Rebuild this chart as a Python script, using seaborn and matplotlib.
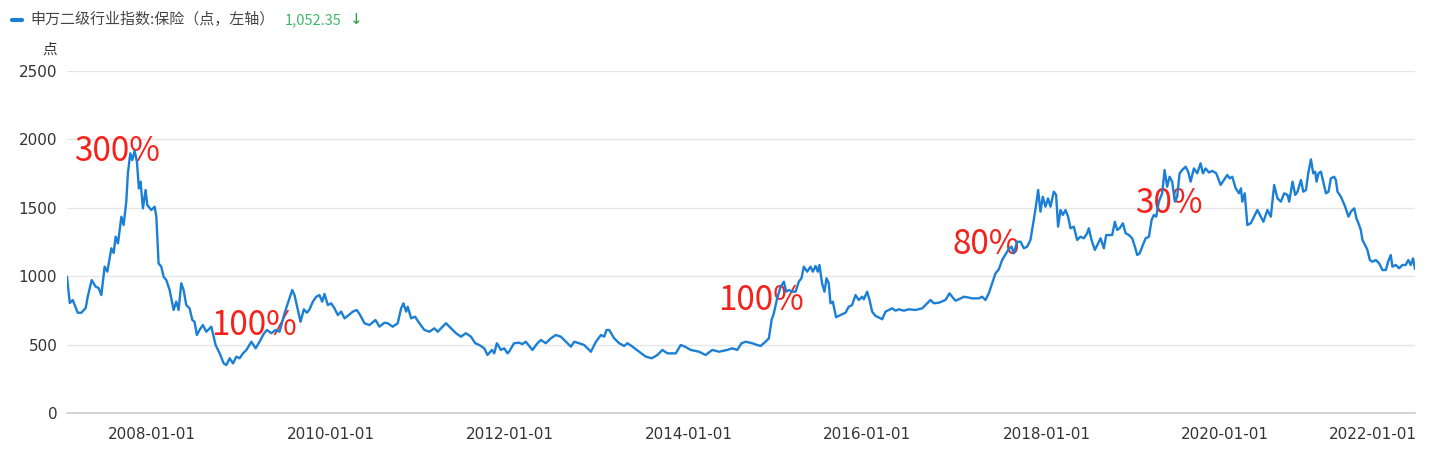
import matplotlib
matplotlib.use("Agg")
import matplotlib.pyplot as plt
import seaborn as sns
import pandas as pd
from matplotlib.lines import Line2D
from matplotlib.transforms import ScaledTranslation

# índice 申万二级行业指数:保险, datas em anos decimais
anos = [
    2007.054, 2007.085, 2007.118, 2007.174, 2007.215, 2007.263, 2007.286, 2007.330, 2007.375, 2007.408,
    2007.438, 2007.475, 2007.505, 2007.550, 2007.576, 2007.598, 2007.624, 2007.662, 2007.687, 2007.717,
    2007.735, 2007.762, 2007.784, 2007.810, 2007.836, 2007.858, 2007.877, 2007.903, 2007.933, 2007.952,
    2007.997, 2008.034, 2008.053, 2008.078, 2008.108, 2008.134, 2008.164, 2008.201, 2008.246, 2008.275,
    2008.301, 2008.331, 2008.357, 2008.387, 2008.424, 2008.454, 2008.479, 2008.505, 2008.535, 2008.572,
    2008.610, 2008.666, 2008.714, 2008.759, 2008.804, 2008.834, 2008.871, 2008.908, 2008.946, 2008.982,
    2009.019, 2009.057, 2009.113, 2009.161, 2009.205, 2009.250, 2009.287, 2009.336, 2009.384, 2009.429,
    2009.484, 2009.521, 2009.570, 2009.596, 2009.633, 2009.663, 2009.700, 2009.734, 2009.764, 2009.801,
    2009.839, 2009.875, 2009.905, 2009.931, 2009.968, 2010.006, 2010.043, 2010.080, 2010.118, 2010.155,
    2010.203, 2010.248, 2010.292, 2010.330, 2010.378, 2010.434, 2010.501, 2010.546, 2010.601, 2010.638,
    2010.694, 2010.750, 2010.788, 2010.814, 2010.844, 2010.862, 2010.900, 2010.944, 2010.992, 2011.048,
    2011.104, 2011.160, 2011.197, 2011.234, 2011.290, 2011.346, 2011.402, 2011.457, 2011.513, 2011.569,
    2011.617, 2011.662, 2011.718, 2011.754, 2011.804, 2011.829, 2011.859, 2011.904, 2011.941, 2011.978,
    2011.995, 2012.051, 2012.107, 2012.144, 2012.182, 2012.256, 2012.312, 2012.350, 2012.405, 2012.461,
    2012.517, 2012.573, 2012.629, 2012.685, 2012.722, 2012.777, 2012.833, 2012.908, 2012.964, 2013.020,
    2013.057, 2013.082, 2013.112, 2013.168, 2013.224, 2013.280, 2013.317, 2013.373, 2013.447, 2013.522,
    2013.589, 2013.652, 2013.707, 2013.763, 2013.819, 2013.857, 2013.912, 2013.960, 2014.024, 2014.117,
    2014.191, 2014.265, 2014.340, 2014.433, 2014.489, 2014.544, 2014.593, 2014.638, 2014.712, 2014.768,
    2014.806, 2014.861, 2014.898, 2014.929, 2014.954, 2014.991, 2015.029, 2015.066, 2015.092, 2015.122,
    2015.159, 2015.197, 2015.233, 2015.263, 2015.289, 2015.326, 2015.364, 2015.390, 2015.420, 2015.445,
    2015.464, 2015.493, 2015.520, 2015.543, 2015.568, 2015.587, 2015.613, 2015.650, 2015.699, 2015.755,
    2015.792, 2015.829, 2015.867, 2015.904, 2015.941, 2015.960, 2015.997, 2016.024, 2016.053, 2016.091,
    2016.147, 2016.165, 2016.202, 2016.239, 2016.276, 2016.314, 2016.351, 2016.406, 2016.462, 2016.537,
    2016.611, 2016.667, 2016.704, 2016.741, 2016.797, 2016.871, 2016.916, 2016.945, 2016.983, 2017.020,
    2017.076, 2017.113, 2017.169, 2017.243, 2017.280, 2017.318, 2017.355, 2017.392, 2017.430, 2017.467,
    2017.504, 2017.542, 2017.579, 2017.609, 2017.635, 2017.672, 2017.710, 2017.747, 2017.784, 2017.821,
    2017.858, 2017.884, 2017.907, 2017.933, 2017.959, 2017.989, 2018.018, 2018.045, 2018.082, 2018.108,
    2018.130, 2018.157, 2018.183, 2018.213, 2018.242, 2018.269, 2018.306, 2018.343, 2018.381, 2018.418,
    2018.455, 2018.474, 2018.504, 2018.541, 2018.578, 2018.605, 2018.642, 2018.668, 2018.698, 2018.735,
    2018.765, 2018.791, 2018.818, 2018.855, 2018.885, 2018.922, 2018.959, 2018.989, 2019.015, 2019.042,
    2019.071, 2019.109, 2019.146, 2019.176, 2019.201, 2019.227, 2019.257, 2019.294, 2019.321, 2019.350,
    2019.377, 2019.406, 2019.436, 2019.462, 2019.489, 2019.518, 2019.556, 2019.585, 2019.612, 2019.649,
    2019.686, 2019.724, 2019.750, 2019.780, 2019.817, 2019.854, 2019.899, 2019.948, 2019.985, 2020.022,
    2020.049, 2020.078, 2020.116, 2020.153, 2020.175, 2020.190, 2020.217, 2020.246, 2020.284, 2020.321,
    2020.358, 2020.396, 2020.425, 2020.470, 2020.508, 2020.545, 2020.582, 2020.620, 2020.657, 2020.694,
    2020.713, 2020.750, 2020.780, 2020.806, 2020.844, 2020.870, 2020.900, 2020.925, 2020.955, 2020.981,
    2021.003, 2021.018, 2021.040, 2021.067, 2021.093, 2021.123, 2021.152, 2021.178, 2021.215, 2021.234,
    2021.252, 2021.290, 2021.338, 2021.375, 2021.402, 2021.439, 2021.464, 2021.494, 2021.513, 2021.531,
    2021.561, 2021.587, 2021.614, 2021.643, 2021.681, 2021.718, 2021.755, 2021.793, 2021.818, 2021.848,
    2021.866, 2021.904, 2021.941, 2021.978, 2022.015, 2022.044, 2022.071, 2022.097, 2022.119,
]

valores = [
    996, 804, 826, 733, 733, 768, 850, 972, 923, 914,
    862, 1070, 1033, 1204, 1170, 1289, 1240, 1435, 1374, 1545,
    1752, 1898, 1849, 1917, 1837, 1642, 1691, 1496, 1630, 1520,
    1484, 1508, 1435, 1094, 1070, 996, 972, 899, 753, 814,
    753, 948, 899, 789, 765, 680, 667, 570, 607, 643,
    594, 631, 497, 436, 363, 351, 400, 363, 412, 400,
    436, 460, 521, 473, 521, 577, 607, 583, 607, 594,
    729, 802, 899, 862, 753, 667, 758, 733, 758, 814,
    850, 862, 814, 870, 789, 802, 765, 716, 741, 692,
    716, 741, 753, 716, 656, 643, 680, 631, 660, 656,
    631, 656, 765, 802, 741, 777, 692, 704, 656, 607,
    594, 619, 594, 619, 656, 619, 583, 558, 583, 558,
    510, 497, 473, 424, 461, 436, 510, 461, 473, 436,
    448, 510, 514, 504, 521, 461, 510, 534, 510, 546,
    570, 558, 521, 485, 521, 510, 497, 448, 521, 570,
    558, 607, 607, 546, 510, 490, 510, 485, 448, 412,
    400, 424, 461, 436, 436, 436, 497, 485, 461, 448,
    424, 461, 448, 461, 473, 461, 510, 521, 510, 497,
    490, 521, 546, 680, 729, 838, 923, 960, 887, 899,
    887, 887, 960, 985, 1070, 1033, 1070, 1033, 1075, 1033,
    1082, 948, 887, 985, 948, 802, 814, 700, 716, 733,
    777, 789, 862, 826, 850, 831, 887, 826, 741, 709,
    692, 685, 741, 753, 765, 748, 758, 748, 758, 753,
    765, 802, 826, 802, 806, 826, 875, 850, 821, 831,
    850, 846, 838, 838, 850, 826, 875, 948, 1021, 1050,
    1118, 1160, 1200, 1216, 1167, 1252, 1252, 1204, 1216, 1265,
    1411, 1520, 1630, 1472, 1581, 1508, 1569, 1508, 1618, 1594,
    1362, 1484, 1448, 1484, 1435, 1350, 1362, 1265, 1289, 1277,
    1314, 1350, 1265, 1192, 1240, 1277, 1204, 1301, 1301, 1301,
    1398, 1338, 1350, 1387, 1314, 1301, 1277, 1216, 1155, 1167,
    1216, 1277, 1289, 1411, 1448, 1435, 1545, 1606, 1776, 1654,
    1727, 1691, 1545, 1581, 1752, 1776, 1800, 1764, 1691, 1788,
    1752, 1825, 1752, 1788, 1758, 1770, 1752, 1667, 1703, 1740,
    1715, 1727, 1642, 1606, 1642, 1545, 1606, 1374, 1387, 1435,
    1484, 1435, 1398, 1484, 1435, 1667, 1569, 1545, 1606, 1594,
    1545, 1691, 1594, 1618, 1703, 1618, 1630, 1752, 1854, 1752,
    1764, 1691, 1752, 1764, 1691, 1606, 1618, 1715, 1727, 1703,
    1618, 1581, 1508, 1435, 1472, 1496, 1423, 1374, 1338, 1265,
    1228, 1192, 1118, 1106, 1118, 1094, 1045, 1045, 1106, 1155,
    1070, 1082, 1058, 1082, 1082, 1118, 1082, 1130, 1052.35,
]

rotulos = ["300%", "100%", "100%", "80%", "30%"]
rotulo_anos = [2007.61, 2009.14, 2014.81, 2017.33, 2019.37]
rotulo_valores = [1908, 636, 819, 1235, 1535]

y_ticks = [0, 500, 1000, 1500, 2000, 2500]
x_ticks = ["2008-01-01", "2010-01-01", "2012-01-01", "2014-01-01",
           "2016-01-01", "2018-01-01", "2020-01-01", "2022-01-01"]

serie_nome = "申万二级行业指数:保险（点，左轴）"
ultimo_valor = "1,052.35"


def ano_para_data(a):
    ano = int(a)
    ini = pd.Timestamp(year=ano, month=1, day=1)
    fim = pd.Timestamp(year=ano + 1, month=1, day=1)
    return ini + (fim - ini) * (a - ano)


df = pd.DataFrame({"data": [ano_para_data(a) for a in anos], "valor": valores})

sns.set_style("white")
plt.rcParams["font.family"] = ["DejaVu Sans", "Noto Sans CJK SC"]

W, H = 1435, 449
fig = plt.figure(figsize=(W / 100, H / 100), dpi=100)
ax = fig.add_axes([67 / W, 36 / H, 1348 / W, 342 / H])

sns.lineplot(data=df, x="data", y="valor", ax=ax, color="#1a7fd5", linewidth=1.7, zorder=3)

ax.set_xlim(df["data"].min(), df["data"].max())
ax.set_ylim(0, 2500)
ax.set_yticks(y_ticks)
ax.set_yticklabels([str(v) for v in y_ticks])
ax.grid(axis="y", color="#e6e6e6", linewidth=1)
ax.grid(axis="x", visible=False)
ax.set_axisbelow(True)
for lado in ["top", "right", "left"]:
    ax.spines[lado].set_visible(False)
ax.spines["bottom"].set_color("#cccccc")
ax.spines["bottom"].set_linewidth(1.2)

ax.set_xticks(pd.to_datetime(x_ticks))
ax.set_xticklabels(x_ticks)
ax.tick_params(axis="x", length=4, color="#cccccc", labelsize=11, labelcolor="#333333", pad=6)
ax.tick_params(axis="y", length=0, labelsize=11, labelcolor="#333333", pad=7)
ax.set_xlabel("")
ax.set_ylabel("")

# último rótulo puxado para dentro, como no original
ultimo = ax.get_xticklabels()[-1]
ultimo.set_horizontalalignment("right")
ultimo.set_transform(ultimo.get_transform() + ScaledTranslation(9 / 72, 0, fig.dpi_scale_trans))

# anotações em vermelho ficam por baixo da linha
for txt, a, v in zip(rotulos, rotulo_anos, rotulo_valores):
    ax.text(ano_para_data(a), v, txt, color="#f5221b", fontsize=24, zorder=2,
            ha="center", va="center", family=["Noto Sans CJK SC", "DejaVu Sans"])

# unidade do eixo
fig.text(57 / W, 1 - 50 / H, "点", ha="right", va="center", fontsize=10.5,
         color="#333333", family=["Noto Sans CJK SC"])

# legenda no topo
fig.add_artist(Line2D([12 / W, 22 / W], [1 - 20 / H] * 2, color="#1a7fd5", linewidth=3))
fig.text(30 / W, 1 - 20 / H, serie_nome, ha="left", va="center", fontsize=10.8,
         color="#444444", family=["Noto Sans CJK SC", "DejaVu Sans"])
fig.text(285 / W, 1 - 20 / H, ultimo_valor, ha="left", va="center", fontsize=10.5,
         color="#3fb86a", family=["Noto Sans CJK SC", "DejaVu Sans"])
fig.text(350 / W, 1 - 20 / H, "↓", ha="left", va="center", fontsize=11,
         color="#2a9a3c", family=["DejaVu Sans"])

fig.savefig("out.png", dpi=100)
